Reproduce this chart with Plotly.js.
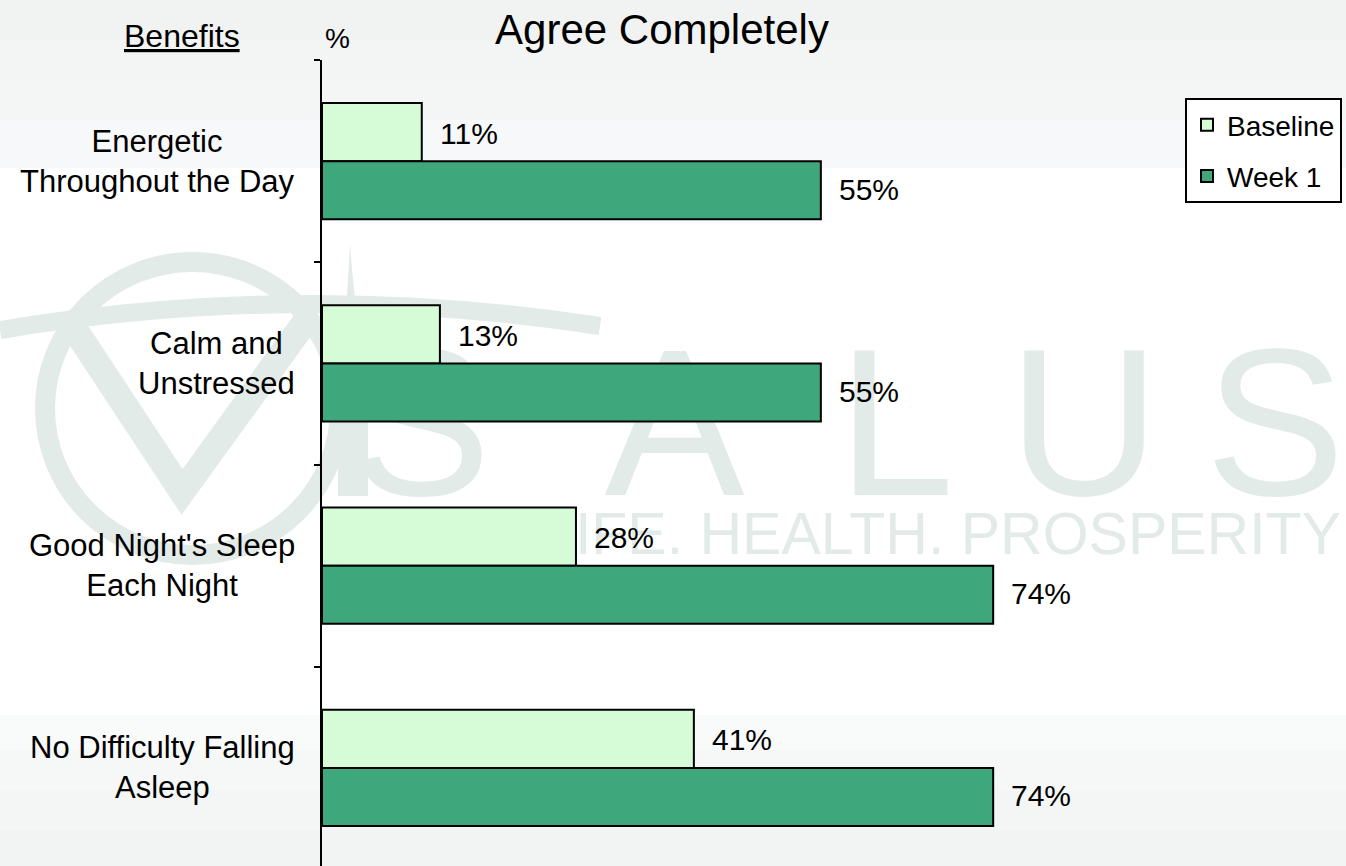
<!DOCTYPE html>
<html>
<head>
<meta charset="utf-8">
<script src="https://cdn.plot.ly/plotly-3.0.1.min.js"></script>
<style>html,body{margin:0;padding:0;background:#fff;}#chart{width:1346px;height:866px;}</style>
</head>
<body>
<div id="chart"></div>
<script>
// ---- data ----
const categories = ["Energetic Throughout the Day", "Calm and Unstressed", "Good Night's Sleep Each Night", "No Difficulty Falling Asleep"];
const tickLabels = ["Energetic<br>Throughout the Day", "Calm and<br>Unstressed", "Good Night's Sleep<br>Each Night", "No Difficulty Falling<br>Asleep"];
const seriesNames = ["Baseline", "Week 1"];
const baseline = [11, 13, 28, 41];
const week1 = [55, 55, 74, 74];

// ---- layout helpers (pixel -> paper) ----
const W = 1346, H = 866, L = 322, T = 60, R = 0, B = 0;
const PW = W - L - R, PH = H - T - B;
const px = v => (v - L) / PW;
const py = v => 1 - (v - T) / PH;
const FONT = "Liberation Sans, Arial, Helvetica, sans-serif";
const WM = "#e2ebe7";

const traces = [
  {type: "bar", orientation: "h", name: seriesNames[0], legendgroup: "g1", x: baseline, y: categories,
   marker: {color: "#d5fcd6", line: {color: "#000", width: 2}}, hoverinfo: "skip"},
  {type: "bar", orientation: "h", name: seriesNames[1], legendgroup: "g2", x: week1, y: categories,
   marker: {color: "#3ea77b", line: {color: "#000", width: 2}}, hoverinfo: "skip"}
];

const annotations = [];
categories.forEach((c, i) => {
  annotations.push({x: 0, xref: "paper", y: c, yref: "y", text: tickLabels[i], xanchor: "right", xshift: -25,
    align: "center", showarrow: false, font: {size: 31, color: "#000", family: FONT}});
  annotations.push({x: baseline[i], xref: "x", y: c, yref: "y", text: baseline[i] + "%", xanchor: "left", xshift: 16,
    yshift: 28, showarrow: false, font: {size: 30, color: "#000", family: FONT}});
  annotations.push({x: week1[i], xref: "x", y: c, yref: "y", text: week1[i] + "%", xanchor: "left", xshift: 16,
    yshift: -28, showarrow: false, font: {size: 30, color: "#000", family: FONT}});
});
annotations.push({x: px(182), y: py(36), xref: "paper", yref: "paper", text: "<u>Benefits</u>", showarrow: false,
  xanchor: "center", yanchor: "middle", font: {size: 32, color: "#000", family: FONT}});
annotations.push({x: px(337), y: py(38), xref: "paper", yref: "paper", text: "%", showarrow: false,
  xanchor: "center", yanchor: "middle", font: {size: 28, color: "#000", family: FONT}});

function rect(x0, y0, x1, y1, color) {
  return {type: "rect", xref: "paper", yref: "paper", x0: px(x0), x1: px(x1), y0: py(y1), y1: py(y0),
    fillcolor: color, line: {width: 0}, layer: "below"};
}
function letter(ch, x0, x1, y0, y1, size, pos) {
  return {type: "rect", xref: "paper", yref: "paper", x0: px(x0), x1: px(x1), y0: py(y1), y1: py(y0),
    fillcolor: "rgba(0,0,0,0)", line: {width: 0}, layer: "below",
    label: {text: ch, textposition: pos || "middle center", padding: 0,
      font: {size: size, color: WM, family: FONT}}};
}
function path(pts) {
  return pts.map(p => typeof p === "string" ? p : (px(p[0]) + "," + py(p[1]))).join(" ");
}

const shapes = [
  rect(0, 0, W, 40, "#f1f2f2"),
  rect(0, 40, W, 80, "#f3f4f4"),
  rect(0, 80, W, 120, "#f4f6f6"),
  rect(0, 120, W, 168, "#f6f8f9"),
  rect(0, 715, W, 750, "#f9fafa"),
  rect(0, 750, W, 790, "#f6f7f7"),
  rect(0, 790, W, 830, "#f4f5f5"),
  rect(0, 830, W, H, "#f2f3f3"),
  // logo ring
  {type: "circle", xref: "paper", yref: "paper", x0: px(45), x1: px(340), y0: py(555), y1: py(262),
    fillcolor: "rgba(0,0,0,0)", line: {color: WM, width: 20}, layer: "below"},
  // V
  {type: "path", xref: "paper", yref: "paper", layer: "below", line: {color: WM, width: 26},
    path: path(["M", [70, 322], "L", [182, 492], "L", [305, 322]])},
  // swoosh
  {type: "path", xref: "paper", yref: "paper", layer: "below", line: {color: WM, width: 18},
    path: path(["M", [0, 330], "Q", [300, 280], [600, 326]])},
  // I spike
  {type: "path", xref: "paper", yref: "paper", layer: "below", fillcolor: WM, line: {width: 0},
    path: path(["M", [350, 243], "Q", [346, 330], [338, 370], "L", [338, 496], "L", [368, 496], "L", [368, 370], "Q", [356, 330], [350, 243], "Z"])},
  letter("S", 366, 476, 312, 492, 210),
  letter("A", 553, 796, 312, 492, 210),
  letter("L", 816, 976, 312, 492, 210),
  letter("U", 972, 1196, 312, 492, 210),
  letter("S", 1206, 1344, 312, 492, 210),
  letter("LIFE. HEALTH. PROSPERITY", 520, 1344, 495, 560, 59, "middle right")
];

const layout = {
  width: W, height: H,
  margin: {l: L, r: R, t: T, b: B, pad: 0},
  paper_bgcolor: "#ffffff",
  plot_bgcolor: "rgba(0,0,0,0)",
  font: {family: FONT, color: "#000"},
  title: {text: "Agree Completely", font: {size: 42, color: "#000", family: FONT},
    x: 662 / W, xanchor: "center", xref: "container", y: 1 - 29 / H, yanchor: "middle", yref: "container"},
  barmode: "group", bargap: 0.426, bargroupgap: 0,
  xaxis: {range: [0, PW / 9.07], visible: false, fixedrange: true},
  yaxis: {type: "category", categoryorder: "array", categoryarray: categories,
    range: [3.485, -0.5], showticklabels: false, showgrid: false, zeroline: false,
    showline: true, linecolor: "#000", linewidth: 2,
    ticks: "outside", tickson: "boundaries", ticklen: 6, tickwidth: 2, tickcolor: "#000", fixedrange: true},
  showlegend: true,
  legend: {x: px(1185), y: py(98), xanchor: "left", yanchor: "top", bgcolor: "#ffffff",
    bordercolor: "#000", borderwidth: 2, traceorder: "grouped",
    font: {size: 28, color: "#000", family: FONT}, tracegroupgap: 12},
  annotations: annotations,
  shapes: shapes
};

Plotly.newPlot("chart", traces, layout, {staticPlot: true, displayModeBar: false});
</script>
</body>
</html>
